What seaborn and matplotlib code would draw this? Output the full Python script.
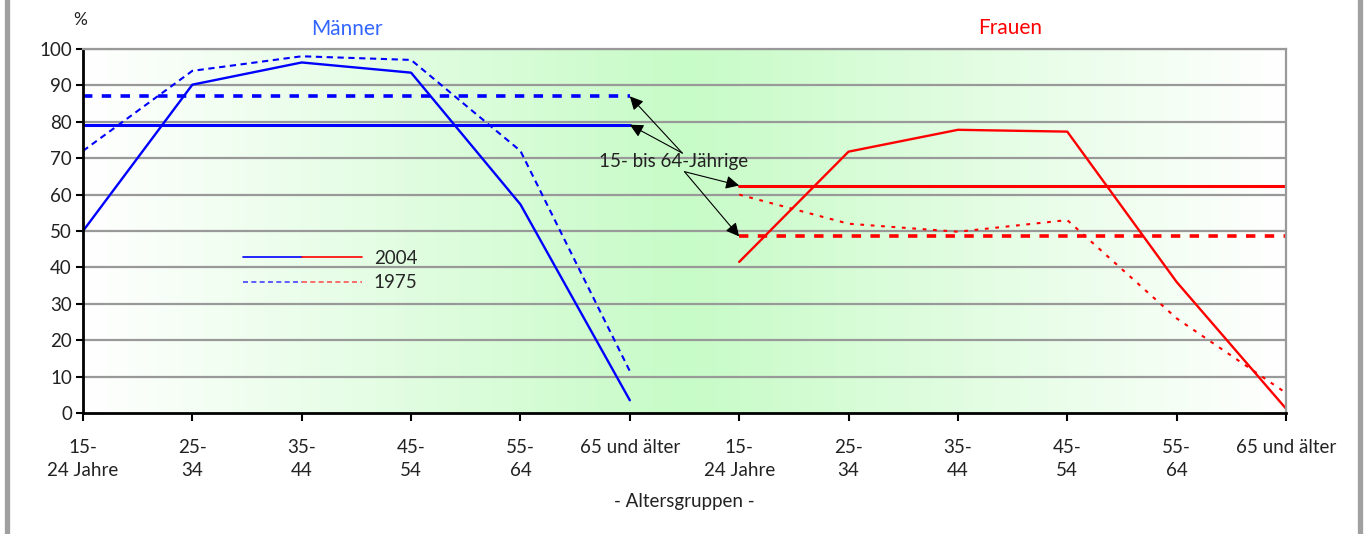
import numpy as np
import pandas as pd
import seaborn as sns
import matplotlib
matplotlib.use("Agg")
import matplotlib.pyplot as plt
from matplotlib.lines import Line2D
from matplotlib.legend_handler import HandlerTuple

# Erwerbsquoten nach Altersgruppen, Männer und Frauen, 1975 und 2004
age_groups = ["15-\n24 Jahre", "25-\n34", "35-\n44", "45-\n54", "55-\n64", "65 und älter"]
maenner_2004 = [50.0, 90.2, 96.3, 93.5, 57.3, 3.5]
maenner_1975 = [72.0, 94.0, 98.0, 97.0, 72.0, 11.5]
frauen_2004 = [41.5, 71.8, 77.8, 77.3, 36.0, 1.2]
frauen_1975 = [60.0, 52.0, 49.8, 53.0, 26.0, 5.5]
# 15- bis 64-Jährige insgesamt
maenner_15_64_2004 = 79.2
maenner_15_64_1975 = 87.0
frauen_15_64_2004 = 62.5
frauen_15_64_1975 = 48.5

BLUE = "#0000ff"
RED = "#ff0000"
GRID = "#999999"
FS = 13.5

sns.set_theme(style="white")
plt.rcParams["font.family"] = ["Lato", "DejaVu Sans"]

rows = []
for sex, offset, s2004, s1975 in (("Männer", 0, maenner_2004, maenner_1975),
                                  ("Frauen", 6, frauen_2004, frauen_1975)):
    for i, grp in enumerate(age_groups):
        rows.append((sex, "2004", offset + i, s2004[i]))
        rows.append((sex, "1975", offset + i, s1975[i]))
df = pd.DataFrame(rows, columns=["sex", "year", "pos", "value"])

fig = plt.figure(figsize=(13.64, 5.34), dpi=100)
ax = fig.add_axes([83 / 1364, 121 / 534, 1203 / 1364, 364 / 534])

# hintergrund: weiss -> grün -> weiss
grad = 1 - np.abs(np.linspace(-1, 1, 400))
white = np.array([1.0, 1.0, 1.0])
green = np.array([0.78, 0.985, 0.78])
img = white[None, :] + grad[:, None] * (green - white)[None, :]
ax.imshow(img[None, :, :], extent=[0, 1, 0, 1], transform=ax.transAxes,
          aspect="auto", zorder=0)

styles = {
    ("Männer", "2004"): dict(color=BLUE, linewidth=1.7, linestyle="-"),
    ("Männer", "1975"): dict(color=BLUE, linewidth=1.5, linestyle=(0, (3, 2.2))),
    ("Frauen", "2004"): dict(color=RED, linewidth=1.7, linestyle="-"),
    ("Frauen", "1975"): dict(color=RED, linewidth=1.5, linestyle=(0, (1.8, 3.2))),
}
for (sex, year), kw in styles.items():
    sub = df[(df.sex == sex) & (df.year == year)]
    sns.lineplot(data=sub, x="pos", y="value", ax=ax, zorder=4, **kw)

# Durchschnittslinien 15-64
avg = pd.DataFrame({
    "sex": ["Männer"] * 4 + ["Frauen"] * 4,
    "year": ["2004", "2004", "1975", "1975"] * 2,
    "pos": [0, 5, 0, 5, 6, 11, 6, 11],
    "value": [maenner_15_64_2004] * 2 + [maenner_15_64_1975] * 2
    + [frauen_15_64_2004] * 2 + [frauen_15_64_1975] * 2,
})
for (sex, year), sub in avg.groupby(["sex", "year"]):
    col = BLUE if sex == "Männer" else RED
    if year == "2004":
        sns.lineplot(data=sub, x="pos", y="value", ax=ax, color=col,
                     linewidth=2.2, zorder=3)
    else:
        sns.lineplot(data=sub, x="pos", y="value", ax=ax, color=col,
                     linewidth=2.6, linestyle=(0, (2.6, 2.6)), zorder=3)

ax.set_xlim(0, 11)
ax.set_ylim(0, 100)
ax.set_yticks(range(0, 101, 10))
ax.set_xticks(range(12))
ax.set_xticklabels(age_groups * 2, fontsize=FS, linespacing=1.4)
ax.tick_params(axis="y", labelsize=FS, length=5, width=1.5, color="black",
               direction="out", left=True, pad=3)
ax.tick_params(axis="x", length=6, width=1.5, color="black", direction="out",
               bottom=True, pad=13)
for t in ax.get_yticklabels() + ax.get_xticklabels():
    t.set_color("#222222")
ax.set_xlabel("")
ax.set_ylabel("")
ax.grid(False)
for y in range(10, 101, 10):
    ax.axhline(y, color=GRID, linewidth=1.6, zorder=1)
ax.spines["left"].set_color("black")
ax.spines["bottom"].set_color("black")
ax.spines["left"].set_linewidth(2)
ax.spines["bottom"].set_linewidth(2)
ax.spines["top"].set_color(GRID)
ax.spines["right"].set_color(GRID)
ax.spines["top"].set_linewidth(1.6)
ax.spines["right"].set_linewidth(1.6)
for s in ax.spines.values():
    s.set_zorder(5)

# Legende: halb blau, halb rot
h2004 = (Line2D([], [], color=BLUE, lw=1.2), Line2D([], [], color=RED, lw=1.2))
h1975 = (Line2D([], [], color="#4444ff", lw=1.2, linestyle=(0, (3, 2))),
         Line2D([], [], color="#ff5555", lw=1.2, linestyle=(0, (3, 2))))
ax.legend([h2004, h1975], ["2004", "1975"],
          handler_map={tuple: HandlerTuple(ndivide=None, pad=0)},
          loc="upper left", bbox_to_anchor=(0.125, 0.474), frameon=False,
          borderpad=0, handlelength=6.35, handletextpad=0.64, labelspacing=0.4,
          fontsize=FS)

# Annotation 15- bis 64-Jährige
ax.text(5.4, 69.2, "15- bis 64-Jährige", ha="center", va="center",
        fontsize=FS, color="#222222", zorder=6)
arrow = dict(arrowstyle="-|>", color="black", lw=0.8, mutation_scale=20,
             shrinkA=0, shrinkB=0)
for x0, y0, x1, y1 in ((5.48, 71.4, 5.0, maenner_15_64_1975),
                       (5.48, 71.4, 5.0, maenner_15_64_2004),
                       (5.5, 66.3, 6.0, frauen_15_64_2004),
                       (5.5, 66.3, 6.0, frauen_15_64_1975)):
    ax.annotate("", xy=(x1, y1), xytext=(x0, y0), arrowprops=arrow, zorder=6)

fig.text(80 / 1364, 1 - 20 / 534, "%", ha="center", va="center", fontsize=12.5,
         color="#222222")
fig.text(347 / 1364, 1 - 29 / 534, "Männer", ha="center", va="center",
         fontsize=15, color="#3366ff")
fig.text(1010 / 1364, 1 - 28 / 534, "Frauen", ha="center", va="center",
         fontsize=15, color=RED)
fig.text(684 / 1364, 1 - 501 / 534, "- Altersgruppen -", ha="center",
         va="center", fontsize=FS, color="#222222")

# grauer Rahmen links und rechts
fig.add_artist(Line2D([6.5 / 1364] * 2, [0, 1], color="#a0a0a0", lw=3.8,
                      transform=fig.transFigure))
fig.add_artist(Line2D([1360 / 1364] * 2, [0, 1], color="#a0a0a0", lw=3.8,
                      transform=fig.transFigure))

fig.savefig("out.png", dpi=100)
